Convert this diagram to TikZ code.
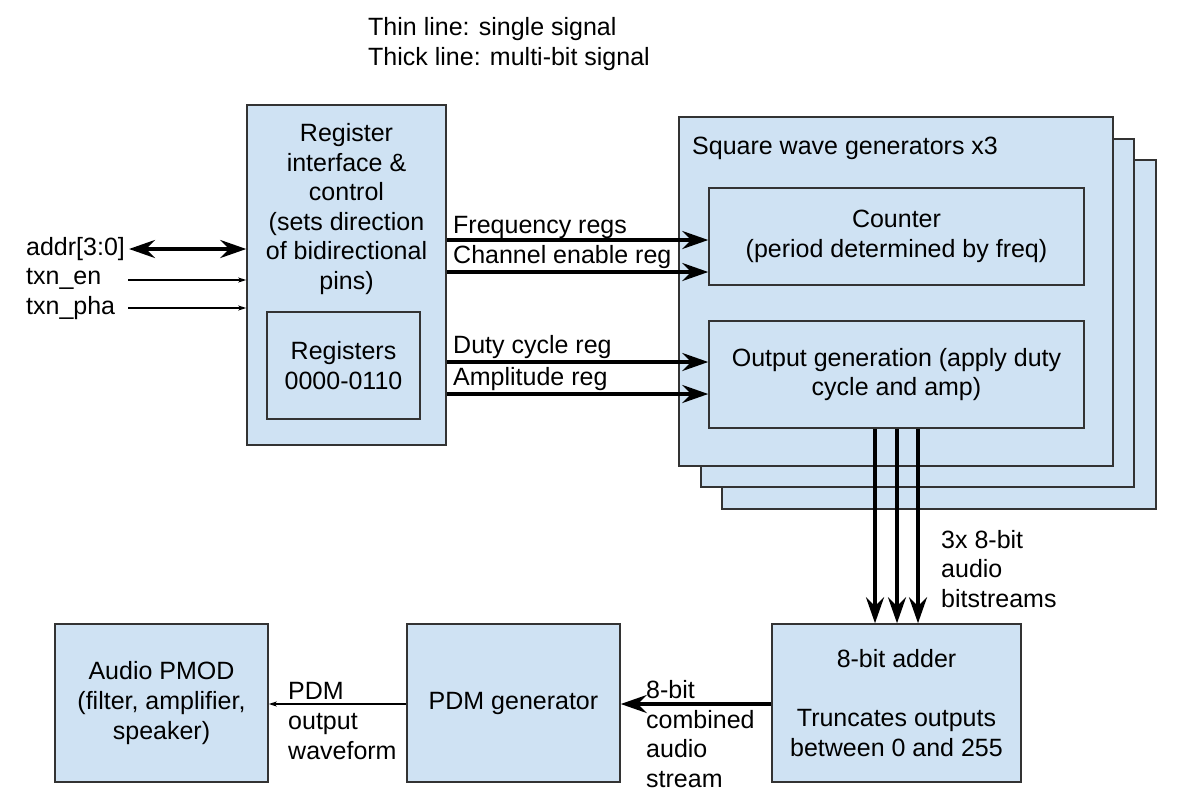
\documentclass[tikz,border=0pt]{standalone}
\usepackage{fontspec}
\setmainfont{Liberation Sans}
\usetikzlibrary{arrows.meta}
\definecolor{boxfill}{HTML}{CFE2F3}
\definecolor{boxline}{HTML}{333333}
\tikzset{
  blk/.style={draw=boxline, fill=boxfill, line width=1.5pt, inner sep=0pt, align=center},
  txt/.style={inner sep=0pt, align=center},
  ltxt/.style={inner sep=0pt, align=left, anchor=west},
  thickarrow/.style={line width=4pt, -{Stealth[length=26pt,width=18pt,inset=9pt]}},
  thickdouble/.style={line width=4pt, {Stealth[length=26pt,width=18pt,inset=9pt]}-{Stealth[length=26pt,width=18pt,inset=9pt]}},
  thinarrow/.style={line width=1.3pt, -{Stealth[length=8pt,width=5pt,inset=2pt]}},
}
\begin{document}
\begin{tikzpicture}[x=1pt,y=-1pt, every node/.style={font=\fontsize{25}{29.6}\selectfont}]
\useasboundingbox[fill=white] (0,0) rectangle (1178,801);

% legend
\node[ltxt] (legend) at (368,44) {Thin line: single signal\\Thick line: multi-bit signal};

% register interface block
\node[blk, minimum width=199pt, minimum height=340pt] (reg) at (346.5,275) {};
\node[txt] (regtxt) at (346.5,209) {Register\\interface \&\\control\\(sets direction\\of bidirectional\\pins)};
\node[blk, minimum width=153pt, minimum height=107pt] (regs) at (343.5,365.5) {Registers\\0000-0110};

% square wave generator stack
\node[blk, minimum width=434pt, minimum height=349pt] (sq3) at (939,334.5) {};
\node[blk, minimum width=433pt, minimum height=348pt] (sq2) at (917.5,313) {};
\node[blk, minimum width=434pt, minimum height=349pt] (sq1) at (896,291.5) {};
\node[ltxt] (sqtxt) at (692,148) {Square wave generators x3};
\node[blk, minimum width=375pt, minimum height=97pt] (cnt) at (896.5,236.5) {Counter\\(period determined by freq)};
\node[blk, minimum width=375pt, minimum height=107pt] (out) at (896.5,374.5) {Output generation (apply duty\\cycle and amp)};

% bottom blocks
\node[blk, minimum width=249pt, minimum height=158pt] (add) at (896.5,703) {8-bit adder\\[29.6pt]Truncates outputs\\between 0 and 255};
\node[blk, minimum width=213pt, minimum height=158pt] (pdm) at (513.5,703) {PDM generator};
\node[blk, minimum width=213pt, minimum height=158pt] (pmod) at (161.5,703) {Audio PMOD\\(filter, amplifier,\\speaker)};

% left inputs
\node[ltxt] (addr) at (26,249) {addr[3:0]};
\node[ltxt] (txnen) at (26,279) {txn\_en};
\node[ltxt] (txnpha) at (26,308) {txn\_pha};
\coordinate (addrend) at (129,249);
\coordinate (txnenend) at (128,280);
\coordinate (txnphaend) at (128,308);
\draw[thickdouble] (addrend) -- (reg.west |- addrend);
\draw[thinarrow] (txnenend) -- (reg.west |- txnenend);
\draw[thinarrow] (txnphaend) -- (reg.west |- txnphaend);

% register outputs
\draw[thickarrow] (reg.east |- 0,240) -- (cnt.west |- 0,240);
\draw[thickarrow] (reg.east |- 0,272) -- (cnt.west |- 0,272);
\draw[thickarrow] (reg.east |- 0,362) -- (out.west |- 0,362);
\draw[thickarrow] (reg.east |- 0,394) -- (out.west |- 0,394);
\node[ltxt] (lfreq) at (453,227) {Frequency regs};
\node[ltxt] (lchan) at (453,257) {Channel enable reg};
\node[ltxt] (lduty) at (453,347) {Duty cycle reg};
\node[ltxt] (lamp) at (453,379) {Amplitude reg};

% outputs to adder
\draw[thickarrow] (out.south -| 875,0) -- (add.north -| 875,0);
\draw[thickarrow] (out.south -| 897,0) -- (add.north -| 897,0);
\draw[thickarrow] (out.south -| 918,0) -- (add.north -| 918,0);
\node[ltxt] (lstreams) at (941,569) {3x 8-bit\\audio\\bitstreams};

% bottom connectors
\draw[thickarrow] (add.west |- 0,704) -- (pdm.east |- 0,704);
\node[ltxt] (lcomb) at (646,734) {8-bit\\combined\\audio\\stream};
\draw[thinarrow] (pdm.west |- 0,704) -- (pmod.east |- 0,704);
\node[ltxt] (lpdm) at (288,721) {PDM\\output\\waveform};
\end{tikzpicture}
\end{document}
